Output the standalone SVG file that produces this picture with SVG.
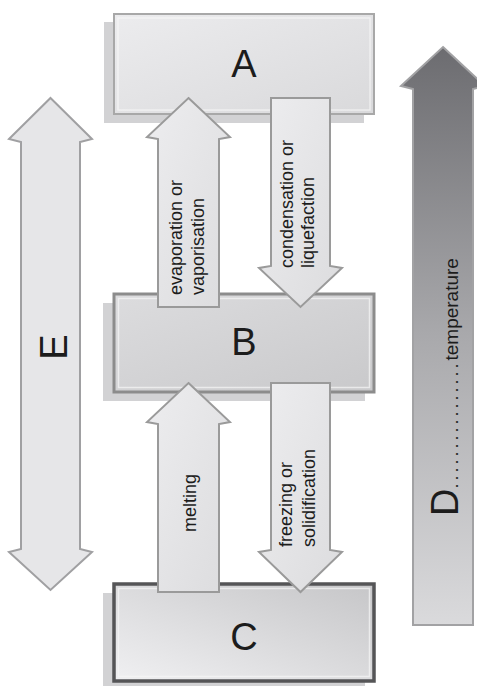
<svg xmlns="http://www.w3.org/2000/svg" width="477" height="686" viewBox="0 0 477 686">
<defs>
<linearGradient id="gA" x1="0" y1="0" x2="1" y2="1"><stop offset="0" stop-color="#ececee"/><stop offset="1" stop-color="#d9d9db"/></linearGradient>
<linearGradient id="gB" x1="0" y1="0" x2="1" y2="1"><stop offset="0" stop-color="#dcdcde"/><stop offset="1" stop-color="#c9c9cb"/></linearGradient>
<linearGradient id="gC" x1="0" y1="1" x2="1" y2="0"><stop offset="0" stop-color="#f0f0f2"/><stop offset="1" stop-color="#c6c6c8"/></linearGradient>
<linearGradient id="gArr" x1="0" y1="0" x2="1" y2="1"><stop offset="0" stop-color="#ededef"/><stop offset="1" stop-color="#dcdcde"/></linearGradient>
<linearGradient id="gD" x1="0" y1="0" x2="0" y2="1"><stop offset="0" stop-color="#6c6c70"/><stop offset="0.5" stop-color="#a9a9ac"/><stop offset="1" stop-color="#dadadc"/></linearGradient>
</defs>
<style>
.shadow{fill:#d2d2d4;}
.bevel{fill:none;stroke:#f6f6f6;stroke-opacity:0.7;stroke-width:1.5;}
.arrow{fill:url(#gArr);stroke:#9a9a9a;stroke-width:2;stroke-linejoin:miter;}
.big{font-family:"Liberation Sans",Arial,sans-serif;font-size:38px;fill:#1c1c1c;}
.lbl{font-family:"Liberation Sans",Arial,sans-serif;font-size:18px;fill:#1c1c1c;}
</style>

<g id="node-A">
<rect class="shadow" x="104" y="22" width="260" height="101"/>
<rect x="114" y="14" width="260" height="100" fill="url(#gA)" stroke="#a8a8a8" stroke-width="2"/>
<rect class="bevel" x="118" y="18" width="252" height="92"/>
<text class="big" x="244" y="77" text-anchor="middle">A</text>
</g>

<g id="node-B">
<rect class="shadow" x="103" y="303" width="262" height="98"/>
<rect x="114" y="294" width="260" height="98" fill="url(#gB)" stroke="#8c8c8c" stroke-width="3"/>
<rect class="bevel" x="118.5" y="298.5" width="251" height="89"/>
<text class="big" x="244" y="355" text-anchor="middle">B</text>
</g>

<g id="node-C">
<rect class="shadow" x="103" y="593" width="262" height="93"/>
<rect x="114" y="584" width="260" height="97" fill="url(#gC)" stroke="#555557" stroke-width="3.5"/>
<rect class="bevel" x="118.5" y="588.5" width="251" height="88"/>
<text class="big" x="244" y="650" text-anchor="middle">C</text>
</g>

<g id="node-E">
<path d="M50.5,98 L92,139 L80,142 L80,549 L92,552 L50.5,590 L9,552 L21,549 L21,142 L9,139 Z" fill="#e6e6e8" stroke="#a0a0a2" stroke-width="2" stroke-linejoin="miter"/>
<text class="big" transform="translate(67,347) rotate(-90)" text-anchor="middle">E</text>
</g>

<g id="node-D">
<path d="M443,47 L485,86 L473,89 L473,625 L413,625 L413,89 L401,86 Z" fill="url(#gD)" stroke="#a2a2a4" stroke-width="2" stroke-linejoin="miter"/>
<text class="lbl" transform="translate(458,516) rotate(-90)"><tspan font-size="38">D</tspan><tspan letter-spacing="3">................</tspan><tspan font-size="19">temperature</tspan></text>
</g>

<g id="connectors">
<g id="evaporation">
<path class="arrow" d="M188.5,98 L230,137 L219,139 L219,307 L158,307 L158,139 L147,137 Z"/>
<text class="lbl" transform="translate(182,295) rotate(-90)"><tspan x="0" y="0">evaporation or</tspan><tspan x="0" y="22">vaporisation</tspan></text>
</g>
<g id="condensation">
<path class="arrow" d="M271,98 L330,98 L330,266 L342,268 L300.5,307 L259,268 L271,266 Z"/>
<text class="lbl" transform="translate(293,268) rotate(-90)"><tspan x="0" y="0">condensation or</tspan><tspan x="0" y="21">liquefaction</tspan></text>
</g>
<g id="melting">
<path class="arrow" d="M188.5,383 L230,422 L219,424 L219,592 L158,592 L158,424 L147,422 Z"/>
<text class="lbl" transform="translate(196,532) rotate(-90)">melting</text>
</g>
<g id="freezing">
<path class="arrow" d="M271,383 L330,383 L330,550 L342,552 L300.5,592 L259,552 L271,550 Z"/>
<text class="lbl" transform="translate(292,547) rotate(-90)"><tspan x="0" y="0">freezing or</tspan><tspan x="0" y="23">solidification</tspan></text>
</g>
</g>
</svg>
